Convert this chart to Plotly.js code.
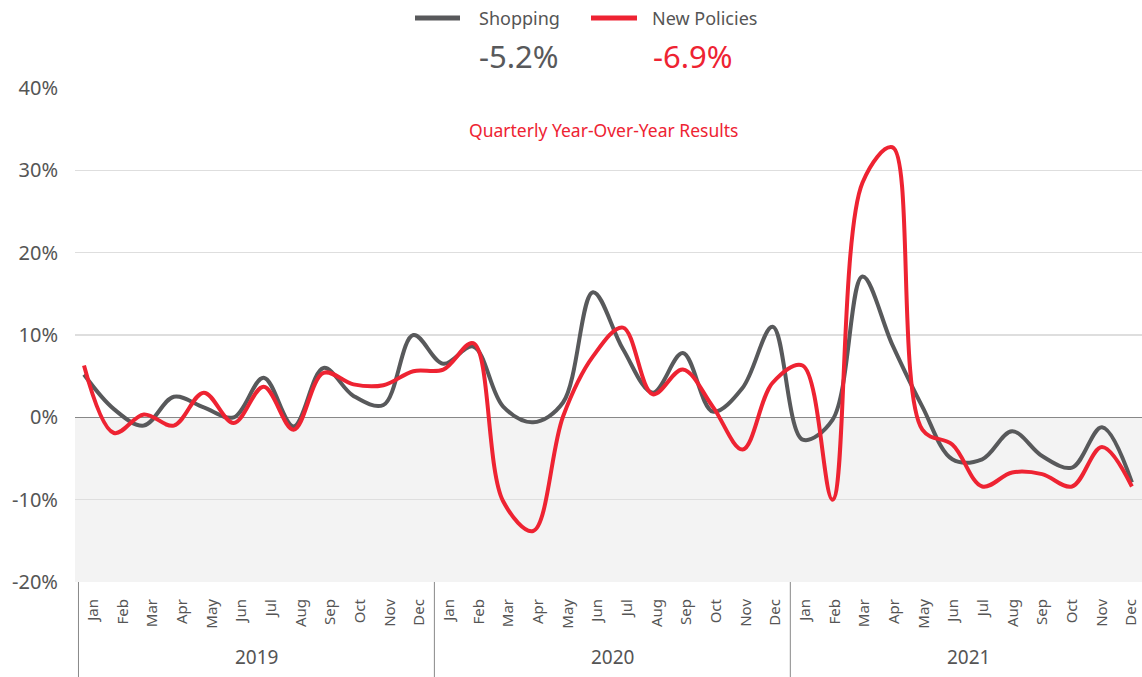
<!DOCTYPE html>
<html>
<head>
<meta charset="utf-8">
<script src="https://cdn.plot.ly/plotly-3.0.1.min.js"></script>
<style>
  html, body { margin: 0; padding: 0; background: #fff; }
  #chart { width: 1142px; height: 677px; }
</style>
</head>
<body>
<div id="chart"></div>
<script>
const years = ["2019", "2020", "2021"];
const months = ["Jan","Feb","Mar","Apr","May","Jun","Jul","Aug","Sep","Oct","Nov","Dec"];

const shopping = [
  5.2, 1.0, -1.0, 2.5, 1.2, 0.0, 4.8, -1.1, 6.0, 2.6, 1.5, 10.0,
  6.5, 8.6, 1.3, -0.6, 1.8, 15.2, 8.3, 3.0, 7.8, 0.7, 3.6, 11.0,
  -2.7, -0.3, 17.1, 8.8, 1.3, -5.1, -5.1, -1.7, -4.7, -6.1, -1.2, -7.9
];
const newPolicies = [
  6.3, -1.9, 0.35, -1.0, 3.0, -0.7, 3.7, -1.5, 5.4, 4.0, 3.9, 5.6,
  5.8, 9.0, -10.2, -13.8, 0.1, 7.4, 10.9, 2.8, 5.8, 1.3, -3.9, 4.2,
  6.3, -10.0, 28.5, 32.8, -1.5, -3.3, -8.4, -6.7, -6.9, -8.4, -3.6, -8.4
];
const latestValues = ["-5.2%", "-6.9%"];
const seriesNames = ["Shopping", "New Policies"];
const yTicks = [-20, -10, 0, 10, 20, 30, 40];
const yTickText = ["-20%", "-10%", "0%", "10%", "20%", "30%", "40%"];
const noteText = "Quarterly Year-Over-Year Results";

const GRAY = "#58595b";
const RED = "#ee2332";
const COLORS = [GRAY, RED];
const FONT = "Noto Sans, sans-serif";

// month index positions and labels
const idx = [], monthLabels = [];
years.forEach(y => months.forEach(m => { idx.push(idx.length); monthLabels.push(m); }));

const traces = [
  { // invisible helper so the label axis is drawn
    x: idx, y: idx.map(() => null), xaxis: "x", yaxis: "y",
    mode: "lines", hoverinfo: "skip", showlegend: false
  },
  {
    x: idx, y: shopping, name: seriesNames[0], xaxis: "x2", yaxis: "y",
    mode: "lines", showlegend: false,
    line: { color: GRAY, width: 4, shape: "spline", smoothing: 1 }
  },
  {
    x: idx, y: newPolicies, name: seriesNames[1], xaxis: "x2", yaxis: "y",
    mode: "lines", showlegend: false,
    line: { color: RED, width: 4, shape: "spline", smoothing: 1 }
  }
];

// paper-coordinate helpers (plot area: x 75..1142, y 88..582)
const px = v => (v - 75) / 1067;
const py = v => (582 - v) / 494;

const shapes = [
  { type: "rect", xref: "paper", yref: "y", x0: 0, x1: 1, y0: -20, y1: 0,
    fillcolor: "#f3f3f3", line: { width: 0 }, layer: "below" }
];
// year dividers
for (let k = 0; k <= years.length; k++) {
  shapes.push({ type: "line", xref: "x", yref: "paper", x0: 12 * k - 0.5, x1: 12 * k - 0.5,
    y0: py(677), y1: 0, line: { color: "#888", width: 1 } });
}
// legend symbols
const legendSym = [[415, 460], [591, 637]];
legendSym.forEach((s, i) => shapes.push({ type: "line", xref: "paper", yref: "paper",
  x0: px(s[0]), x1: px(s[1]), y0: py(18), y1: py(18), line: { color: COLORS[i], width: 5 } }));

const annotations = [];
const legendTextX = [477, 650];
seriesNames.forEach((n, i) => annotations.push({ xref: "paper", yref: "paper",
  x: px(legendTextX[i]), y: py(18), text: n, showarrow: false, xanchor: "left", yanchor: "middle",
  font: { family: FONT, size: 18, color: "#555" } }));
const valueX = [519, 693];
latestValues.forEach((v, i) => annotations.push({ xref: "paper", yref: "paper",
  x: px(valueX[i]), y: py(56), text: v, showarrow: false, xanchor: "center", yanchor: "middle",
  font: { family: FONT, size: 31, color: COLORS[i] } }));
annotations.push({ xref: "paper", yref: "paper", x: px(603), y: py(130), text: noteText,
  showarrow: false, xanchor: "center", yanchor: "middle",
  font: { family: FONT, size: 17.5, color: RED } });
years.forEach((y, k) => annotations.push({ xref: "x", yref: "paper", x: 12 * k + 5.5, y: py(657),
  text: y, showarrow: false, xanchor: "center", yanchor: "middle",
  font: { family: FONT, size: 19, color: "#555" } }));

const layout = {
  width: 1142, height: 677,
  margin: { l: 75, r: 0, t: 88, b: 95 },
  paper_bgcolor: "#fff", plot_bgcolor: "#fff",
  font: { family: FONT, color: "#555" },
  showlegend: false,
  xaxis: {
    range: [-0.617, 35.357], tickvals: idx, ticktext: monthLabels,
    showgrid: false, zeroline: false, showline: false, ticks: "",
    tickangle: -90, ticklabelstandoff: 13,
    tickfont: { family: FONT, size: 15, color: "#555" }, fixedrange: true
  },
  xaxis2: {
    overlaying: "x", range: [-0.3006, 35.337], visible: false, fixedrange: true
  },
  yaxis: {
    range: [-20, 40], tickvals: yTicks, ticktext: yTickText,
    showgrid: true, gridcolor: "#dedede", gridwidth: 1.5,
    zeroline: true, zerolinecolor: "#888", zerolinewidth: 1.5,
    showline: false, ticks: "", ticklabelstandoff: 16,
    tickfont: { family: FONT, size: 20, color: "#555" }, fixedrange: true
  },
  shapes: shapes,
  annotations: annotations
};

Plotly.newPlot("chart", traces, layout, { displayModeBar: false, staticPlot: true });
</script>
</body>
</html>
